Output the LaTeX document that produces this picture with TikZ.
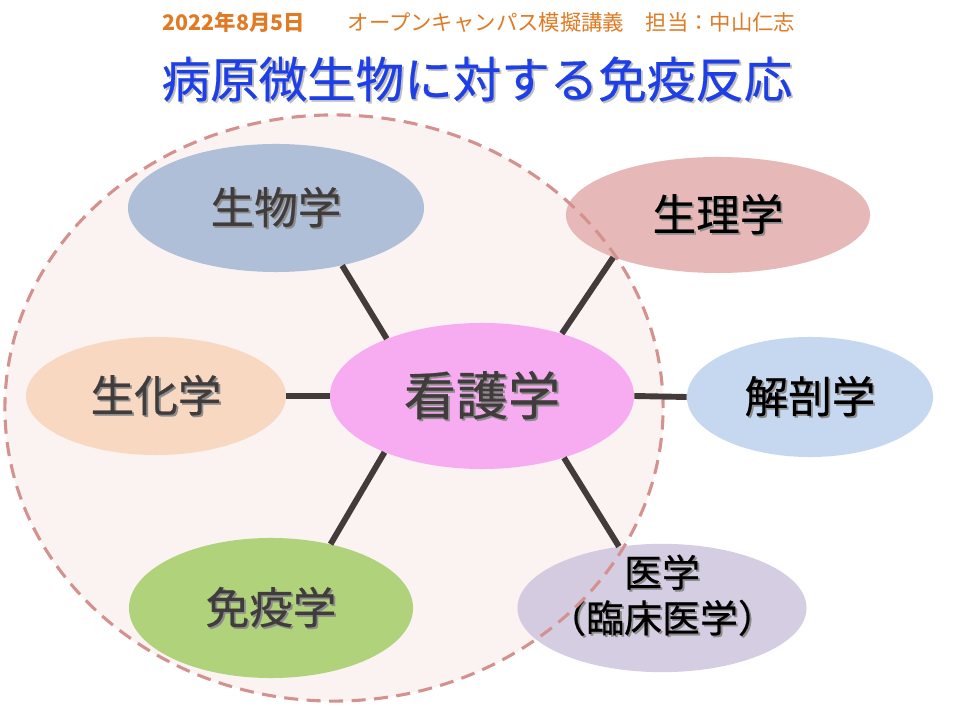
\documentclass[tikz,border=0pt]{standalone}
\usepackage{fontspec}
\setmainfont{Noto Sans CJK JP}
\newfontfamily\jp{Noto Sans CJK JP}
\newfontfamily\jpm[FakeBold=0.5]{Noto Sans CJK JP}
\usetikzlibrary{shapes.geometric}
\definecolor{cBio}{HTML}{AFBFD8}
\definecolor{cSeika}{HTML}{F9D8C1}
\definecolor{cKango}{HTML}{F7ACF2}
\definecolor{cSeiri}{HTML}{E6B8B7}
\definecolor{cKaibo}{HTML}{C6D8EF}
\definecolor{cMeneki}{HTML}{AFD27A}
\definecolor{cIgaku}{HTML}{CBC2DC}
\definecolor{cCircFill}{HTML}{FBF2F2}
\definecolor{cCircLine}{HTML}{D4928E}
\definecolor{cLink}{HTML}{433A3A}
\definecolor{cText}{HTML}{403C3C}
\definecolor{cTitle}{HTML}{1E3FE6}
\definecolor{cSub}{HTML}{E07A24}
\newcommand{\shd}[2][black!45]{\makebox[0pt][l]{\hspace{1.3pt}\raisebox{-1.3pt}{\textcolor{#1}{#2}}}#2}
\tikzset{
  field/.style={ellipse, inner sep=0pt, font=\jpm\fontsize{31}{36}\selectfont},
  link/.style={draw=cLink, line width=4.2pt},
}
\begin{document}
\begin{tikzpicture}[x=0.025cm, y=-0.025cm]
\useasboundingbox (0,0) rectangle (960,720);
\fill[white] (0,0) rectangle (960,720);
% titles
\node (sub) at (479,22) {\fontsize{15.2}{17}\selectfont\color{cSub}\textbf{2022年8月5日}　　オープンキャンパス模擬講義　担当：中山仁志};
\node (title) at (477,80) {\jpm\fontsize{34.5}{40}\selectfont\color{cTitle}\shd[black!25]{病原微生物に対する免疫反応}};
% big circle fill
\fill[cCircFill] (334,408) ellipse [x radius=8.225cm, y radius=7.325cm];
% fields
\node[field, fill=cBio, minimum width=7.4cm, minimum height=3.2cm, text=cText] (bio) at (276,208) {\shd{生物学}};
\node[field, fill=cSeika, minimum width=6.5cm, minimum height=2.95cm, text=cText] (seika) at (156,396) {\shd{生化学}};
\node[field, fill=cKango, minimum width=7.6cm, minimum height=3.65cm, text=cText, font=\jpm\fontsize{37}{42}\selectfont] (kango) at (482,396) {\shd{看護学}};
\node[field, fill=cSeiri, minimum width=7.6cm, minimum height=2.9cm, text=black] (seiri) at (718,215) {\shd{生理学}};
\node[field, fill=cKaibo, minimum width=6.15cm, minimum height=3.0cm, text=black] (kaibo) at (810,397) {\shd{解剖学}};
\node[field, fill=cMeneki, minimum width=7.1cm, minimum height=3.5cm, text=cText] (meneki) at (271,608) {\shd{免疫学}};
\node[field, fill=cIgaku, fill opacity=0.8, text opacity=1, inner xsep=-12pt, minimum width=7.225cm, minimum height=3.2cm, text=black, font=\jpm\fontsize{27}{31}\selectfont] (igaku) at (662,608) {\raisebox{5.7pt}[\height][\depth]{\begin{tabular}{@{}c@{}}\shd{医学}\\\shd{（臨床医学）}\end{tabular}}};
% dashed circle outline
\draw[cCircLine, line width=2.2pt, dash pattern=on 10pt off 6pt] (334,408) ellipse [x radius=8.225cm, y radius=7.325cm];
% connectors
\draw[link] (bio.-41) -- (kango.149);
\draw[link] (seika.east) -- (kango.west);
\draw[link] (kango.38) -- (seiri.202);
\draw[link] (kango.east) -- (kaibo.west);
\draw[link] (kango.210) -- (meneki.47);
\draw[link] (kango.-37) -- (igaku.125);
\end{tikzpicture}
\end{document}
